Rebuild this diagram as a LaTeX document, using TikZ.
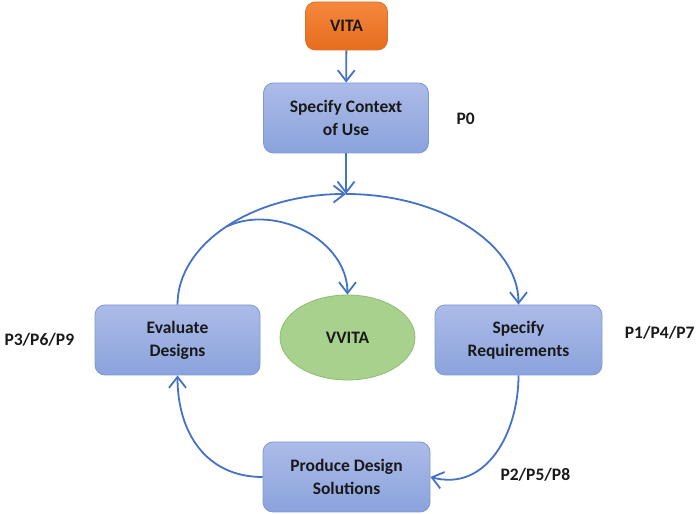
\documentclass[tikz,border=0pt]{standalone}
\usepackage{fontspec}
\setmainfont{Carlito}
\usetikzlibrary{arrows.meta}
\usetikzlibrary{shapes.geometric}

\definecolor{boxtop}{RGB}{172,187,232}
\definecolor{boxbot}{RGB}{138,163,220}
\definecolor{boxline}{RGB}{126,152,214}
\definecolor{vitatop}{RGB}{245,136,62}
\definecolor{vitabot}{RGB}{230,108,28}
\definecolor{vitaline}{RGB}{222,112,40}
\definecolor{ovalfill}{RGB}{169,209,142}
\definecolor{ovalline}{RGB}{138,190,108}
\definecolor{linkblue}{RGB}{68,114,196}

\begin{document}
\begin{tikzpicture}[x=1pt,y=1pt,
  label/.style={font=\fontsize{17.5}{23}\selectfont\bfseries,text=black!90},
  stage/.style={label,rectangle,rounded corners=10pt,draw=boxline,thick,top color=boxtop,bottom color=boxbot,minimum width=165pt,minimum height=70pt,align=center,inner sep=0pt},
  link/.style={draw=linkblue,line width=1.8pt,-{Straight Barb[length=11pt,width=17pt]}}]
\useasboundingbox (0,0) rectangle (699,514);

\node[label,rectangle,rounded corners=10pt,draw=vitaline,thick,top color=vitatop,bottom color=vitabot,minimum width=82pt,minimum height=48pt] (vita) at (346.5,488) {VITA};
\node[stage] (context) at (346,396) {Specify Context\\of Use};
\node[stage] (evaluate) at (177.5,174) {Evaluate\\Designs};
\node[stage,minimum width=167pt] (require) at (518.5,174) {Specify\\Requirements};
\node[stage,minimum width=167pt] (produce) at (346.5,37) {Produce Design\\Solutions};
\node[label,ellipse,draw=ovalline,thick,fill=ovalfill,minimum width=135pt,minimum height=85pt,inner sep=0pt] (vvita) at (347.5,176.5) {VVITA};
\coordinate (top) at (346,320);

\node[label,anchor=west] (p0) at (453,395) {P0};
\node[label,anchor=west] (p3) at (1,174) {P3/P6/P9};
\node[label,anchor=east] (p1) at (698,181) {P1/P4/P7};
\node[label,anchor=west] (p2) at (497,39) {P2/P5/P8};

\draw[link] (vita) -- (context);
\draw[link] (context) -- (top);
\draw[link] (evaluate.north) .. controls +(0,61) and +(-93,0) .. coordinate[pos=0.5] (branch) (top);
\draw[link] (top) .. controls +(94,0) and +(0,61) .. (require.north);
\draw[link] (branch) to[out=25,in=90] (vvita.north);
\draw[link] (require.south) to[out=-90,in=-15,looseness=1.1] (produce.east);
\draw[link] (produce.west) to[out=180,in=-90,looseness=1.1] (evaluate.south);

\end{tikzpicture}
\end{document}
